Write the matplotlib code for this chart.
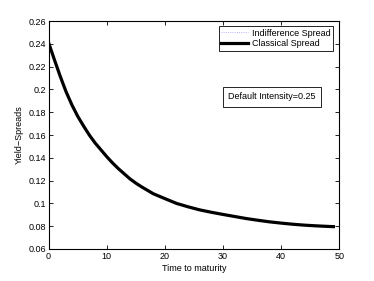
import matplotlib
matplotlib.use('Agg')
import matplotlib.pyplot as plt

plt.rcParams['font.family'] = ['Liberation Sans', 'DejaVu Sans']

# maturity (years) and yield spreads
maturity = [0, 1, 2, 3, 4, 5, 6, 7, 8, 9, 10, 11, 12, 13, 14, 15, 16, 18, 20,
            22, 24, 26, 28, 30, 32, 34, 36, 38, 40, 42, 44, 46, 48, 49]
classical = [0.241, 0.226, 0.2115, 0.198, 0.1865, 0.1765, 0.168, 0.160,
             0.153, 0.147, 0.141, 0.1355, 0.1305, 0.126, 0.1215, 0.1178,
             0.1145, 0.1085, 0.1042, 0.1000, 0.0970, 0.0943, 0.0922, 0.0903,
             0.0885, 0.0867, 0.0852, 0.0838, 0.0827, 0.0817, 0.0809, 0.0803,
             0.0798, 0.0796]
# indifference spread lies under the classical one
indifference = list(classical)

xticks = [0, 10, 20, 30, 40, 50]
yticks = [0.06, 0.08, 0.1, 0.12, 0.14, 0.16, 0.18, 0.2, 0.22, 0.24, 0.26]
ylabels = ['0.06', '0.08', '0.1', '0.12', '0.14', '0.16', '0.18', '0.2',
           '0.22', '0.24', '0.26']

fs = 6.5
fig = plt.figure(figsize=(3.74, 2.81), dpi=100)
ax = fig.add_axes([0.13, 0.114, 0.777, 0.811])

ax.plot(maturity, indifference, ':', color='#9999ff', lw=0.6,
        label='Indifference Spread')
ax.plot(maturity, classical, '-', color='black', lw=2.3,
        label='Classical Spread')

ax.set_xlim(0, 50)
ax.set_ylim(0.06, 0.26)
ax.set_xticks(xticks)
ax.set_yticks(yticks)
ax.set_yticklabels(ylabels)
ax.tick_params(direction='in', length=3, width=0.6, labelsize=fs,
               top=True, right=True, pad=2)
for s in ax.spines.values():
    s.set_linewidth(0.8)

ax.set_xlabel('Time to maturity', fontsize=fs, labelpad=2)
ax.set_ylabel('Yield\u2212Spreads', fontsize=fs, labelpad=3)

leg = ax.legend(loc='upper right', bbox_to_anchor=(0.98, 0.979),
                borderaxespad=0, fontsize=fs, fancybox=False, framealpha=1,
                edgecolor='black', handlelength=3.0, handletextpad=0.4,
                borderpad=0.3, labelspacing=0.2)
leg.get_frame().set_linewidth(0.6)

ax.text(0.769, 0.667, 'Default Intensity=0.25', transform=ax.transAxes,
        fontsize=fs, ha='center', va='center',
        bbox=dict(boxstyle='square,pad=0.6', fc='white', ec='black', lw=0.6))

fig.savefig('out.png', dpi=100)
